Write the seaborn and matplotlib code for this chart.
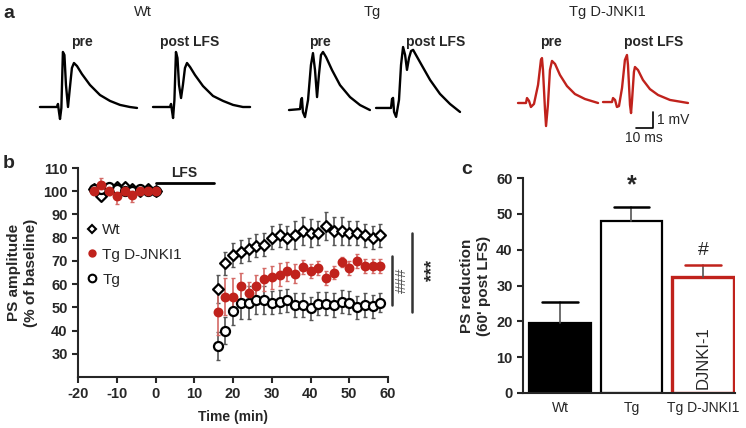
import numpy as np
import pandas as pd
import matplotlib
matplotlib.use("Agg")
import matplotlib.pyplot as plt
import seaborn as sns
from matplotlib.lines import Line2D

sns.set_style("ticks")
plt.rcParams['font.family'] = ['Liberation Sans', 'DejaVu Sans']
plt.rcParams['axes.unicode_minus'] = False

# ---------------- data ----------------
# panel a: example field potentials (ms, mV)
wt_pre_t = [0, 10, 10.6, 11.2, 11.8, 12.6, 13.5, 14.4, 15.3, 16.5, 17.6, 18.8, 20, 21.8, 24.7, 29.4, 35.3, 41.2, 47.1, 52.9, 57.1]
wt_pre_v = [0, 0, 0.19, -0.31, -0.75, -0.06, 3.44, 3.25, 1.38, 0, 1.19, 2.44, 2.75, 2.56, 2.06, 1.38, 0.75, 0.38, 0.13, 0, -0.06]
wt_post_t = [0, 10, 10.6, 11.2, 11.8, 12.6, 13.5, 14.4, 15.3, 16.5, 17.6, 18.8, 20, 21.8, 24.7, 29.4, 35.3, 41.2, 47.1, 52.9, 57.1]
wt_post_v = [0, 0, 0.19, -0.25, -0.69, 0.44, 3.44, 3.06, 1.38, 0.56, 1.38, 2.44, 2.75, 2.5, 2, 1.31, 0.69, 0.38, 0.13, 0, 0]
tg_pre_t = [0, 6.5, 7.1, 7.6, 8.2, 9.4, 11.2, 12.9, 14.1, 15.3, 16.5, 17.6, 18.8, 20, 21.8, 25.3, 30, 35.9, 41.8, 47.6]
tg_pre_v = [0, 0.06, 0.63, 0.75, -0.13, -0.44, 0.63, 2.81, 3.56, 2.5, 0.81, 2.19, 3.44, 3.63, 3.31, 2.5, 1.56, 0.81, 0.31, 0]
tg_post_t = [0, 8.8, 9.4, 10, 10.6, 11.8, 13.5, 14.7, 15.9, 17.1, 18.2, 19.4, 20.6, 21.8, 23.5, 27.1, 31.8, 37.6, 43.5, 49.4]
tg_post_v = [0, 0, 0.56, 0.63, -0.25, -0.56, 0.5, 2.69, 3.81, 3.31, 2.38, 3.13, 3.56, 3.63, 3.31, 2.63, 1.75, 0.88, 0.25, -0.25]
dj_pre_t = [0, 4.7, 5.3, 6.5, 7.6, 9.4, 11.8, 13.5, 14.1, 14.7, 15.9, 16.5, 17.6, 18.8, 20, 21.8, 24.7, 28.8, 33.5, 39.4, 47.1]
dj_pre_v = [0, 0, 0.31, 0.13, -0.25, -0.06, 1.13, 2.69, 2.81, 2.06, -0.44, -1.44, -0.13, 2.06, 2.63, 2.44, 1.75, 1.06, 0.56, 0.25, 0]
dj_post_t = [0, 5.3, 5.9, 7.1, 8.2, 9.4, 11.2, 12.9, 14.1, 14.7, 15.9, 16.5, 17.1, 18.2, 18.8, 20.6, 23.5, 27.6, 32.4, 39.4, 50]
dj_post_v = [0, 0, 0.25, 0.13, -0.31, -0.25, 0.88, 2.63, 2.94, 2.31, -0.19, -0.69, 0.13, 1.88, 2.19, 2, 1.38, 0.81, 0.44, 0.13, -0.06]

# panel b: PS amplitude time course (% of baseline)
time_min = [-16, -14, -12, -10, -8, -6, -4, -2, 0,
            16, 18, 20, 22, 24, 26, 28, 30, 32, 34, 36, 38, 40, 42, 44, 46, 48, 50, 52, 54, 56, 58]
wt_ps = [101, 98, 101, 102, 102, 101, 100, 101, 100,
         58, 69, 72.5, 74, 75, 76.5, 77, 80, 81, 80, 81, 83, 82, 82, 85, 83, 83, 82, 82, 81, 80, 81]
wt_sem = [1.5, 1.5, 1.5, 1.5, 1.5, 1.5, 1.5, 1.5, 1,
          6, 5, 5, 5, 5, 5, 5, 5, 5, 5, 6, 6, 6, 5, 6, 6, 6, 5, 5, 5, 5, 5]
dj_ps = [100, 102.5, 100, 98, 100, 98.5, 100, 100, 100,
         48, 54.5, 54.5, 59, 56, 59, 62, 63, 64, 65.5, 64.5, 67.5, 65.5, 67, 62.5, 65, 69.5, 67, 70, 68, 68, 68]
dj_sem = [1, 3, 1.5, 3.5, 1, 3, 1, 1, 0.5,
          10, 8, 8, 6, 5, 5, 5, 5, 5, 4, 4, 3, 3, 3, 3, 3, 2, 3, 3, 3, 3, 3]
tg_ps = [101, 101, 102, 101, 100, 100, 101, 100, 100,
         33.5, 40, 48.5, 52, 52, 53, 53, 52, 52.5, 53, 51, 51, 49.5, 51.5, 51.5, 51, 52.5, 52, 50, 51, 50.5, 52]
tg_sem = [1.5, 1.5, 1.5, 1.5, 1.5, 1.5, 1.5, 1.5, 1,
          6, 6, 6, 7, 7, 6, 6, 5, 5, 5, 5, 5, 5, 5, 5, 5, 5, 5, 5, 5, 5, 4]

# panel c: PS reduction 60' post LFS
groups = ['Wt', 'Tg', 'Tg D-JNKI1']
reduction = [19.5, 48, 32.3]
reduction_sem = [5.8, 3.8, 3.5]

RED = '#c0221c'
GREY = '#555555'

fig = plt.figure(figsize=(7.46, 4.28), dpi=100)
H = 428.0
W = 746.0

# ---------------- panel a ----------------
axa = fig.add_axes([0, 1 - 150 / H, 1, 150 / H])
axa.set_xlim(0, W / 1.7)
axa.set_ylim((107 - 150) / 16, 107 / 16)
axa.axis('off')

traces = [(wt_pre_t, wt_pre_v, 'k'), (wt_post_t, wt_post_v, 'k'),
          (tg_pre_t, tg_pre_v, 'k'), (tg_post_t, tg_post_v, 'k'),
          (dj_pre_t, dj_pre_v, RED), (dj_post_t, dj_post_v, RED)]
offsets = [(23.5, 0), (90, 0), (170, -0.19), (221.2, -0.06), (304.7, 0.25), (354.7, 0.31)]
for (t, v, c), (dx, dy) in zip(traces, offsets):
    sns.lineplot(x=np.array(t) + dx, y=np.array(v) + dy, sort=False, estimator=None,
                 color=c, lw=1.7, ax=axa)

# scale bar 10 ms / 1 mV
axa.plot([374.1, 384.1, 384.1], [-1.31, -1.31, -0.31], color='k', lw=1.2)
axa.text(386.5, -0.81, '1 mV', fontsize=10, va='center', ha='left')
axa.text(379, -1.5, '10 ms', fontsize=10, va='top', ha='center')

for x, s in [(143, 'Wt'), (372, 'Tg'), (607, 'Tg D-JNKI1')]:
    fig.text(x / W, 1 - 12 / H, s, fontsize=10.5, ha='center', va='center')
for x, s in [(82, 'pre'), (190, 'post LFS'), (320, 'pre'), (436, 'post LFS'),
             (551, 'pre'), (654, 'post LFS')]:
    fig.text(x / W, 1 - 42 / H, s, fontsize=10, fontweight='bold', ha='center', va='center')

fig.text(9 / W, 1 - 13 / H, 'a', fontsize=14, fontweight='bold', ha='center', va='center')
fig.text(9 / W, 1 - 164 / H, 'b', fontsize=14, fontweight='bold', ha='center', va='center')
fig.text(467 / W, 1 - 170 / H, 'c', fontsize=14, fontweight='bold', ha='center', va='center')

# ---------------- panel b ----------------
axb = fig.add_axes([78 / W, 1 - 377 / H, 310 / W, (377 - 168) / H])
series = [('Wt', wt_ps, wt_sem, 'D', 'white', 'k', GREY, 5.5),
          ('Tg', tg_ps, tg_sem, 'o', 'white', 'k', GREY, 6.5),
          ('Tg D-JNKI1', dj_ps, dj_sem, 'o', RED, RED, '#d46a66', 5.5)]
handles = {}
for name, y, e, m, fc, ec, erc, ms in series:
    axb.errorbar(time_min, y, yerr=e, fmt='none', ecolor=erc, elinewidth=1.2,
                 capsize=1.5, capthick=1, zorder=2)
    df = pd.DataFrame({'t': time_min, 'v': y})
    sns.scatterplot(data=df, x='t', y='v', marker=m, s=ms ** 2, facecolor=fc,
                    edgecolor=ec, linewidth=1.6, ax=axb, zorder=3, legend=False)
    handles[name] = Line2D([], [], ls='none', marker=m, ms=ms - 1, mfc=fc, mec=ec, mew=1.5)

axb.legend([handles['Wt'], handles['Tg D-JNKI1'], handles['Tg']],
           ['Wt', 'Tg D-JNKI1', 'Tg'], loc='upper left', bbox_to_anchor=(-0.01, 0.78),
           frameon=False, fontsize=11, handletextpad=0.2, labelspacing=0.7,
           borderaxespad=0.2, handlelength=1.0)

axb.set_xlim(-20, 60)
axb.set_ylim(20, 110)
axb.set_xticks(range(-20, 61, 10))
axb.set_yticks(range(30, 111, 10))
axb.set_xlabel('Time (min)', fontsize=10, fontweight='bold', labelpad=6)
axb.set_ylabel('PS amplitude\n(% of baseline)', fontsize=11, fontweight='bold', labelpad=4)
sns.despine(ax=axb)
for sp in ['left', 'bottom']:
    axb.spines[sp].set_linewidth(1.5)
axb.tick_params(width=1.5, length=4, labelsize=10.5)
for lab in axb.get_xticklabels() + axb.get_yticklabels():
    lab.set_fontweight('bold')

# LFS bar
axb.plot([0, 15], [103.5, 103.5], color='k', lw=2, clip_on=False)
axb.text(7.5, 105, 'LFS', fontsize=10, fontweight='bold', ha='center', va='bottom')

# significance
axb.plot([61, 61], [51, 72.2], color='#333333', lw=1.8, clip_on=False)
axb.plot([66.2, 66.2], [48, 82], color='#333333', lw=1.8, clip_on=False)
axb.text(63.7, 61.5, '###', rotation=90, fontsize=11, ha='center', va='center', color='#555555')
axb.text(71.5, 66, '***', rotation=90, fontsize=13, ha='center', va='center', fontweight='bold')

# ---------------- panel c ----------------
axc = fig.add_axes([523 / W, 1 - 393 / H, (735 - 523) / W, (393 - 178) / H])
dfc = pd.DataFrame({'group': groups, 'val': reduction})
sns.barplot(data=dfc, x='group', y='val', order=groups, width=0.86, ax=axc,
            palette=['black', 'white', 'white'], hue='group', legend=False,
            edgecolor='black', linewidth=1.6)
edge_cols = ['black', 'black', RED]
for bar, ec in zip(axc.patches, edge_cols):
    bar.set_edgecolor(ec)
    bar.set_linewidth(2.4 if ec == RED else 1.6)
cap_cols = ['black', 'black', RED]
for i, (v, e) in enumerate(zip(reduction, reduction_sem)):
    axc.plot([i, i], [v, v + e], color=GREY, lw=1.2, zorder=1)
    axc.plot([i - 0.25, i + 0.25], [v + e, v + e], color=cap_cols[i], lw=1.8)

axc.text(1, 54.5, '*', fontsize=18, fontweight='bold', ha='center', va='bottom')
axc.text(2, 37.3, '#', fontsize=14, ha='center', va='bottom')
axc.text(2, 10, 'DJNKI-1', rotation=90, fontsize=12, ha='center', va='center')

axc.set_xlim(-0.52, 2.45)
axc.set_ylim(0, 60)
axc.set_yticks(range(0, 61, 10))
axc.set_xlabel('')
axc.set_ylabel("PS reduction\n(60' post LFS)", fontsize=11, fontweight='bold', labelpad=4)
sns.despine(ax=axc)
for sp in ['left', 'bottom']:
    axc.spines[sp].set_linewidth(1.5)
axc.tick_params(axis='y', width=1.5, length=4, labelsize=10.5)
axc.tick_params(axis='x', length=0, labelsize=10, pad=6)
for lab in axc.get_yticklabels():
    lab.set_fontweight('bold')

fig.savefig('out.png', dpi=100)
